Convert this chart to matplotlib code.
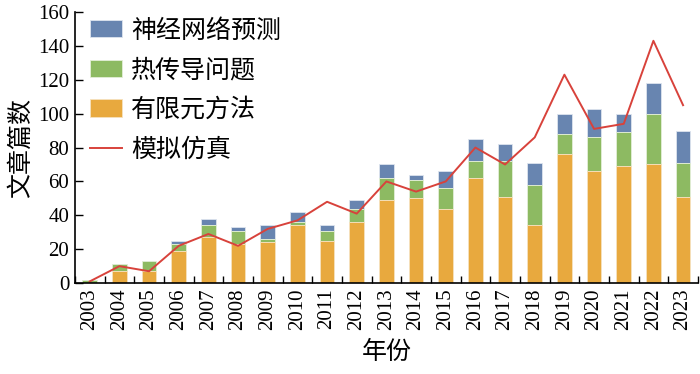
import matplotlib

matplotlib.use("Agg")
import matplotlib.pyplot as plt
import numpy as np

plt.rcParams["font.family"] = ["Liberation Serif", "Noto Sans CJK SC"]
SERIF = "Liberation Serif"
CJK = "Noto Sans CJK SC"

years = [str(y) for y in range(2003, 2024)]
fem = [0, 7, 7, 19, 27, 23, 24, 34, 25, 36, 49, 50, 44, 62, 51, 34, 76, 66, 69, 70, 51]
heat = [2, 4, 6, 4, 7, 8, 2, 2, 6, 8, 13, 11, 12, 10, 21, 24, 12, 20, 20, 30, 20]
nn = [0, 0, 0, 2, 4, 2, 8, 6, 3, 5, 8, 3, 10, 13, 10, 13, 12, 17, 11, 18, 19]
sim = [1, 10, 7, 22, 29, 22, 32, 37, 48, 41, 60, 54, 60, 80, 70, 86, 123, 91, 94, 143, 105]

ORANGE = "#e8a93e"
GREEN = "#8dba62"
BLUE = "#6885b0"
RED = "#d8423b"

x = np.arange(len(years))
fem_a = np.array(fem)
heat_a = np.array(heat)
nn_a = np.array(nn)

fig = plt.figure(figsize=(7, 3.74), dpi=100)
ax = fig.add_axes([0.107, 0.243, 0.89, 0.725])

w = 0.5
b_nn = ax.bar(x, nn_a, w, bottom=fem_a + heat_a, color=BLUE, edgecolor="#dde4ee",
              linewidth=0.6)
b_heat = ax.bar(x, heat_a, w, bottom=fem_a, color=GREEN, edgecolor="#e4efd8",
                linewidth=0.6)
b_fem = ax.bar(x, fem_a, w, color=ORANGE, edgecolor="#f6e2bf", linewidth=0.6)
ln, = ax.plot(x, sim, color=RED, linewidth=1.4)

ax.set_xlim(-0.5, len(years) - 0.5)
ax.set_ylim(0, 160)
ax.set_yticks(range(0, 161, 20))
ax.set_yticklabels([str(v) for v in range(0, 161, 20)], fontfamily=SERIF)
ax.set_xticks(x)
ax.set_xticklabels(years, rotation=90, fontfamily=SERIF)
ax.set_xticks(np.arange(-0.5, len(years), 1), minor=True)
ax.tick_params(axis="x", which="major", length=0, labelsize=15, pad=4)
ax.tick_params(axis="x", which="minor", direction="in", length=5, width=1)
ax.tick_params(axis="y", direction="in", length=6, width=1, labelsize=15, pad=4)
for s in ("top", "right"):
    ax.spines[s].set_visible(False)
for s in ("left", "bottom"):
    ax.spines[s].set_linewidth(1.2)

ax.set_xlabel("年份", fontsize=18, fontfamily=CJK, labelpad=6)
ax.set_ylabel("文章篇数", fontsize=18, fontfamily=CJK, labelpad=3)

ax.legend([b_nn, b_heat, b_fem, ln], ["神经网络预测", "热传导问题", "有限元方法", "模拟仿真"],
          loc="upper left", bbox_to_anchor=(0.0, 1.035), frameon=False,
          prop={"family": CJK, "size": 18},
          handlelength=1.3, handleheight=0.7, labelspacing=0.55, handletextpad=0.35,
          borderaxespad=0.2)

fig.savefig("out.png", dpi=100)
